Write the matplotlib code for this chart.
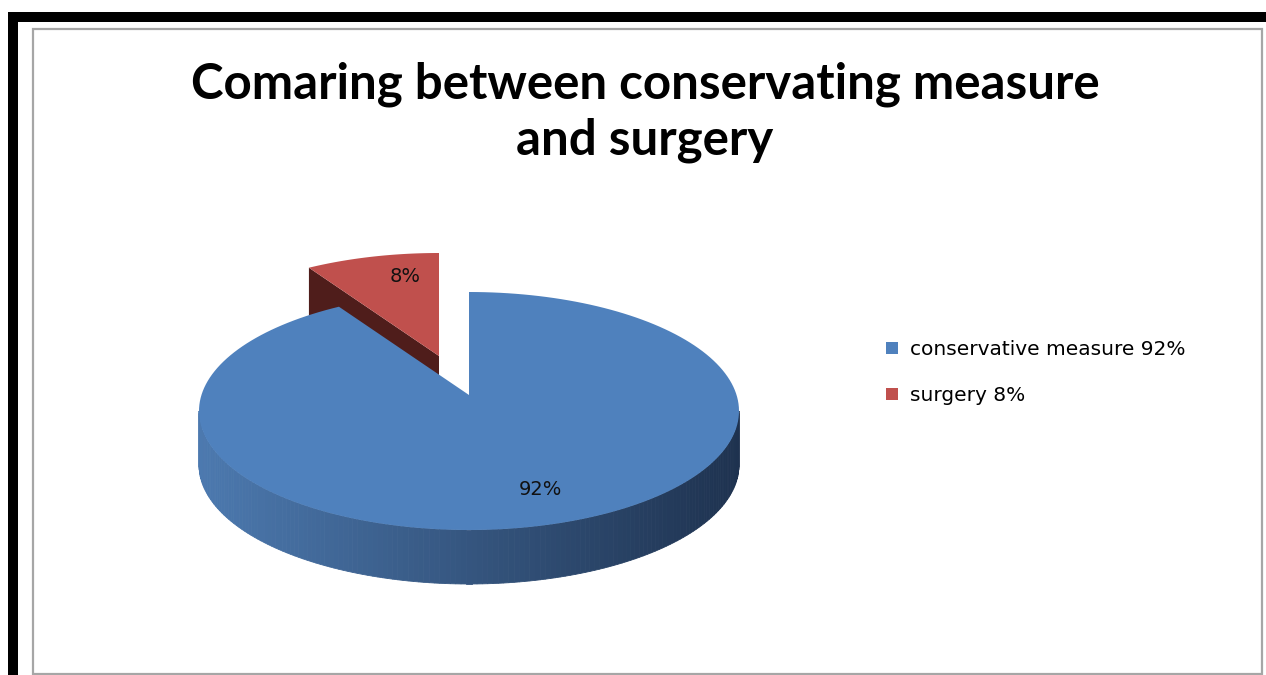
import numpy as np
import matplotlib
matplotlib.use('Agg')
import matplotlib.pyplot as plt
from matplotlib.patches import Polygon, Rectangle, Patch

# data
categories = ['conservative measure', 'surgery']
values = [92, 8]
legend_labels = ['conservative measure 92%', 'surgery 8%']
pct_labels = ['92%', '8%']
explode = [0, 1]

top_colors = ['#4f81bd', '#c0504d']
edge_colors = ['#1f3350', '#4f1d1b']

W, H = 1266, 675
fig = plt.figure(figsize=(W / 100, H / 100), dpi=100)
ax = fig.add_axes([0, 0, 1, 1])
ax.set_xlim(0, W)
ax.set_ylim(H, 0)
ax.axis('off')

# frames: thick black bars on left/top, thin grey chart border
ax.add_patch(Rectangle((8, 12), W, 10, fc='black', ec='none'))
ax.add_patch(Rectangle((8, 12), 10, H, fc='black', ec='none'))
ax.add_patch(Rectangle((33, 29), 1229, 645, fill=False, ec='#a6a6a6', lw=1.6))

# 3d pie geometry (pixels)
cx, cy = 469, 411
rx, ry = 270, 119
depth = 54
apex_lift = 16
exp_dx, exp_dy = -30, -39


def rim(t, ox=0, oy=0):
    t = np.radians(t)
    return cx + ox + rx * np.sin(t), cy + oy - ry * np.cos(t)


total = sum(values)
starts = np.cumsum([0] + values[:-1]) / total * 360
spans = np.array(values) / total * 360

# red slice first (it sits behind)
for i in [1, 0]:
    a0, a1 = starts[i], starts[i] + spans[i]
    ox, oy = exp_dx * explode[i], exp_dy * explode[i]
    apx, apy = cx + ox, cy + oy - apex_lift
    ts = np.linspace(a0, a1, 200)
    rxs, rys = rim(ts, ox, oy)

    if i == 1:
        # radial side face on the start edge
        ex, ey = rim(a0, ox, oy)
        face = [(apx, apy), (ex, ey), (ex, ey + depth), (apx, apy + depth)]
        ax.add_patch(Polygon(face, closed=True, fc=edge_colors[i], ec='none'))
    else:
        # curved outer side, front half, shaded left to right
        lo, hi = max(a0, 90), min(a1, 270)
        tt = np.linspace(lo, hi, 160)
        c_left = np.array([76, 121, 175]) / 255
        c_right = np.array([30, 50, 79]) / 255
        for k in range(len(tt) - 1):
            x0, y0 = rim(tt[k])
            x1, y1 = rim(tt[k + 1])
            f = ((x0 + x1) / 2 - (cx - rx)) / (2 * rx)
            col = c_left * (1 - f) + c_right * f
            quad = [(x0, y0), (x1, y1), (x1, y1 + depth), (x0, y0 + depth)]
            ax.add_patch(Polygon(quad, closed=True, fc=col, ec=col, lw=0.6))

    top = [(apx, apy)] + list(zip(rxs, rys))
    ax.add_patch(Polygon(top, closed=True, fc=top_colors[i], ec='none'))

# data labels
label_pos = [(1.06, 0.68), (0.5, 0.83)]
for i in range(len(values)):
    mid = np.radians(starts[i] + spans[i] / 2)
    ox, oy = exp_dx * explode[i], exp_dy * explode[i]
    fx, fy = label_pos[i]
    lx = cx + ox + rx * np.sin(mid) * fx
    ly = cy + oy - ry * np.cos(mid) * fy
    ax.text(lx, ly, pct_labels[i], ha='center', va='center', fontsize=14,
            family='DejaVu Sans', color='#111111')

# title
ax.text(645, 112, 'Comaring between conservating measure\nand surgery',
        ha='center', va='center', fontsize=35.5, fontweight='bold',
        family='Lato', linespacing=1.28)

# legend
handles = [Patch(fc=c, ec='none') for c in top_colors]
ax.legend(handles, legend_labels, loc='upper left',
          bbox_to_anchor=(886 / W, 1 - 340 / H), frameon=False,
          handlelength=0.6, handleheight=0.6, handletextpad=0.6,
          labelspacing=1.35, borderpad=0, borderaxespad=0,
          prop={'family': 'DejaVu Sans', 'size': 14.5})

fig.savefig('out.png', dpi=100)
